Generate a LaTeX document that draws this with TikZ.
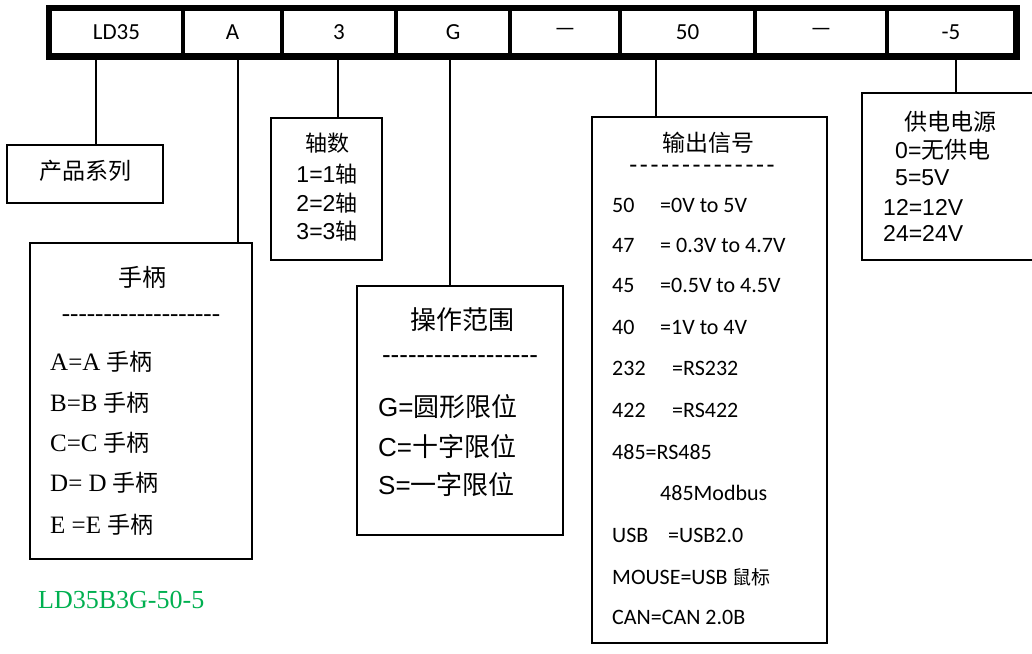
\documentclass[tikz,border=0pt]{standalone}
\usepackage{fontspec}
\setmainfont{Liberation Serif}
\newfontfamily\fcal{Carlito}
\newfontfamily\fari{Liberation Sans}
\newfontfamily\fcjk{Noto Sans CJK SC}
\definecolor{wgreen}{RGB}{0,176,80}
\newcommand{\fsz}[1]{\fontsize{#1}{#1}\selectfont}
\newcommand{\hy}{-{}}
\newcommand{\gd}{-\hspace{2.6pt}}
\begin{document}
\begin{tikzpicture}[x=1pt,y=-1pt,
  cell/.style={draw,line width=3.5pt,inner sep=0pt,minimum height=46pt,font=\fcal\fsz{23}},
  box/.style={draw,line width=2pt,inner sep=0pt},
  conn/.style={line width=1.8pt},
  lt/.style={inner sep=0pt,anchor=west},
  ct/.style={inner sep=0pt,anchor=center}]
\useasboundingbox (0,0) rectangle (1032,653);
\fill[white] (0,0) rectangle (1032,653);
\clip (0,0) rectangle (1032,653);
% top bar
\node[cell,minimum width=133pt] (c1) at (116.5,32) {LD35};
\node[cell,minimum width=99pt]  (c2) at (232.5,32) {A};
\node[cell,minimum width=114pt] (c3) at (339,32) {3};
\node[cell,minimum width=114pt] (c4) at (453,32) {G};
\node[cell,minimum width=110pt] (c5) at (565,32) {—};
\node[cell,minimum width=135pt] (c6) at (687.5,32) {50};
\node[cell,minimum width=132pt] (c7) at (821,32) {—};
\node[cell,minimum width=128pt] (c8) at (951,32) {-5};
\draw[line width=5.5pt] (c1.north west) rectangle (c8.south east);
% boxes
\node[box,minimum width=156pt,minimum height=58pt] (b1) at (85,174) {};
\node[box,minimum width=222pt,minimum height=316pt] (b2) at (141,401) {};
\node[box,minimum width=111pt,minimum height=142pt] (b3) at (326.5,189) {};
\node[box,minimum width=206pt,minimum height=249pt] (b4) at (460,410.5) {};
\node[box,minimum width=235pt,minimum height=526pt] (b5) at (709.5,380) {};
\node[box,minimum width=183pt,minimum height=167pt] (b6) at (953.5,176.5) {};
% connectors
\draw[conn] (c1.south -| 96,0) -- (b1.north -| 96,0);
\draw[conn] (c2.south -| 238,0) -- (b2.north -| 238,0);
\draw[conn] (c3.south -| 338,0) -- (b3.north -| 338,0);
\draw[conn] (c4.south -| 450,0) -- (b4.north -| 450,0);
\draw[conn] (c6.south -| 656,0) -- (b5.north -| 656,0);
\draw[conn] (c8.south -| 956,0) -- (b6.north -| 956,0);
% b1
\node[ct,font=\fcjk\fsz{23}] (t1) at (85,171) {产品系列};
% b2
\node[ct,font=\fcjk\fsz{24}] (t2) at (142,277) {手柄};
\node[ct,font=\fsz{25}] (t2d) at (141,318) {\hy\hy\hy\hy\hy\hy\hy\hy\hy\hy\hy\hy\hy\hy\hy\hy\hy\hy\hy};
\begin{scope}[every node/.style={lt,font=\fsz{25}}]
\node (t2a) at (50,362) {A=A {\fcjk\fsz{23}手柄}};
\node (t2b) at (50,403) {B=B {\fcjk\fsz{23}手柄}};
\node (t2c) at (50,443) {C=C {\fcjk\fsz{23}手柄}};
\node (t2e) at (50,483) {D= D {\fcjk\fsz{23}手柄}};
\node (t2f) at (50,525) {E =E {\fcjk\fsz{23}手柄}};
\end{scope}
% b3
\node[ct,font=\fcjk\fsz{22}] (t3) at (327,143) {轴数};
\begin{scope}[every node/.style={ct,font=\fari\fsz{23}}]
\node (t3a) at (327,174) {1=1{\fcjk\fsz{22}轴}};
\node (t3b) at (327,203) {2=2{\fcjk\fsz{22}轴}};
\node (t3c) at (327,231) {3=3{\fcjk\fsz{22}轴}};
\end{scope}
% b4
\node[ct,font=\fcjk\fsz{26}] (t4) at (462,320) {操作范围};
\node[ct,font=\fari\fsz{26}] (t4d) at (460,360) {\hy\hy\hy\hy\hy\hy\hy\hy\hy\hy\hy\hy\hy\hy\hy\hy\hy\hy};
\begin{scope}[every node/.style={lt,font=\fari\fsz{26}}]
\node (t4a) at (378,407) {G={\fcjk\fsz{26}圆形限位}};
\node (t4b) at (378,447) {C={\fcjk\fsz{26}十字限位}};
\node (t4c) at (378,485) {S={\fcjk\fsz{26}一字限位}};
\end{scope}
% b5
\node[ct,font=\fcjk\fsz{23}] (t5) at (708,143) {输出信号};
\node[ct,font=\fcal\fsz{26}] (t5d) at (702,169) {\gd\gd\gd\gd\gd\gd\gd\gd\gd\gd\gd\gd\gd-};
\begin{scope}[every node/.style={lt,font=\fcal\fsz{22}}]
\node (t5a) at (612,205) {\makebox[48pt][l]{50}=0V to 5V};
\node (t5b) at (612,245) {\makebox[48pt][l]{47}= 0.3V to 4.7V};
\node (t5c) at (612,285) {\makebox[48pt][l]{45}=0.5V to 4.5V};
\node (t5e) at (612,327) {\makebox[48pt][l]{40}=1V to 4V};
\node (t5f) at (612,368) {\makebox[60pt][l]{232}=RS232};
\node (t5g) at (612,410) {\makebox[60pt][l]{422}=RS422};
\node (t5h) at (612,452) {485=RS485};
\node (t5i) at (660,493) {485Modbus};
\node (t5j) at (612,535) {\makebox[56pt][l]{USB}=USB2.0};
\node (t5k) at (612,577) {MOUSE=USB {\fcjk\fsz{19}鼠标}};
\node (t5l) at (612,617) {CAN=CAN 2.0B};
\end{scope}
% b6
\node[ct,font=\fcjk\fsz{23}] (t6) at (950,122) {供电电源};
\begin{scope}[every node/.style={lt,font=\fari\fsz{23}}]
\node (t6a) at (895,150) {0={\fcjk\fsz{23}无供电}};
\node (t6b) at (895,178) {5=5V};
\node (t6c) at (883,207) {12=12V};
\node (t6e) at (883,233) {24=24V};
\end{scope}
% example code
\node[lt,font=\fsz{26},text=wgreen] (ex) at (38,600) {LD35B3G-50-5};
\end{tikzpicture}
\end{document}
